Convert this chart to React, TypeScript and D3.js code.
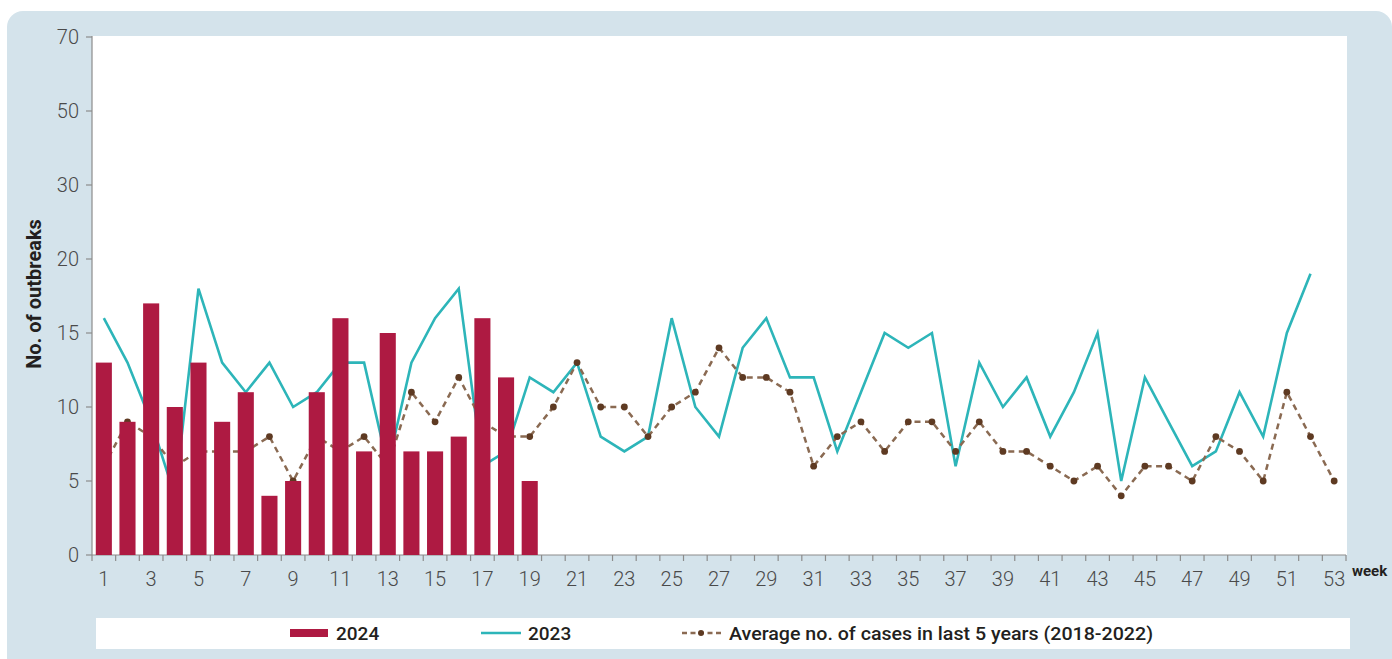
import React from "react";
import * as d3 from "d3";

// weeks on the x axis
const weeks = d3.range(1, 54);
const weekTicks = weeks.filter((w) => w % 2 === 1);

// y axis is uneven: ticks evenly spaced but values jump after 20
const yTicks = [0, 5, 10, 15, 20, 30, 50, 70];

// 2024 outbreaks (bars), weeks 1-19
const cases2024 = [13, 9, 17, 10, 13, 9, 11, 4, 5, 11, 16, 7, 15, 7, 7, 8, 16, 12, 5];

// 2023 outbreaks (line), weeks 1-52
const cases2023 = [
  16, 13, 9, 4, 18, 13, 11, 13, 10, 11, 13, 13, 6, 13, 16, 18, 6, 7, 12, 11,
  13, 8, 7, 8, 16, 10, 8, 14, 16, 12, 12, 7, 11, 15, 14, 15, 6, 13, 10, 12,
  8, 11, 15, 5, 12, 9, 6, 7, 11, 8, 15, 19,
];

// average of last 5 years (2018-2022), weeks 1-53
const avg5yr = [
  6, 9, 8, 6, 7, 7, 7, 8, 5, 8, 7, 8, 6, 11, 9, 12, 9, 8, 8, 10,
  13, 10, 10, 8, 10, 11, 14, 12, 12, 11, 6, 8, 9, 7, 9, 9, 7, 9, 7, 7,
  6, 5, 6, 4, 6, 6, 5, 8, 7, 5, 11, 8, 5,
];

const W = 1392;
const H = 659;
const margin = { left: 92, right: 1346, top: 37, bottom: 555 };

const BAR = "#ae1a42";
const TEAL = "#2db5b9";
const BROWN_LINE = "#8a6a52";
const BROWN_DOT = "#5e3a22";
const PANEL = "#d4e3eb";
const TEXT = "#231f20";
const TICK = "#8c8c8c";
const FONT = "Roboto, 'DejaVu Sans', sans-serif";

export default function App() {
  const x = d3.scaleBand<number>().domain(weeks).range([margin.left, margin.right]);
  const bw = x.bandwidth();
  const cx = (w: number) => (x(w) as number) + bw / 2;

  const step = (margin.bottom - margin.top) / (yTicks.length - 1);
  const y = d3
    .scaleLinear()
    .domain(yTicks)
    .range(yTicks.map((_, i) => margin.bottom - i * step));

  const line2023 = d3
    .line<number>()
    .x((_, i) => cx(i + 1))
    .y((d) => y(d));
  const lineAvg = d3
    .line<number>()
    .x((_, i) => cx(i + 1))
    .y((d) => y(d));

  const barW = bw * 0.68;

  return (
    <svg
      width={W}
      height={H}
      style={{ position: "absolute", left: 0, top: 0, fontFamily: FONT }}
    >
      <rect x={0} y={0} width={W} height={H} fill="#fff" />
      {/* panel */}
      <rect x={7} y={11} width={W - 7} height={H + 20} rx={16} fill={PANEL} />
      {/* plot area */}
      <rect
        x={margin.left}
        y={margin.top - 1}
        width={margin.right - margin.left + 1}
        height={margin.bottom - margin.top + 1}
        fill="#fff"
      />

      {/* y axis */}
      <line x1={margin.left} x2={margin.left} y1={margin.top - 1} y2={margin.bottom} stroke={TICK} strokeWidth={1.2} />
      {yTicks.map((t) => (
        <g key={t}>
          <line x1={margin.left - 6} x2={margin.left} y1={y(t)} y2={y(t)} stroke={TICK} strokeWidth={1.2} />
          <text
            x={margin.left - 13}
            y={y(t)}
            dy="0.36em"
            textAnchor="end"
            fontSize={20}
            fontWeight={300}
            fill="#4a4a4a"
          >
            {t}
          </text>
        </g>
      ))}
      <text
        transform={`translate(41,294) rotate(-90)`}
        textAnchor="middle"
        fontSize={20}
        fontWeight={700}
        fill={TEXT}
      >
        No. of outbreaks
      </text>

      {/* x axis */}
      <line x1={margin.left} x2={margin.right} y1={margin.bottom} y2={margin.bottom} stroke={TICK} strokeWidth={1.2} />
      {weeks.concat([54]).map((w) => {
        const xx = w <= 53 ? (x(w) as number) : margin.right;
        return <line key={w} x1={xx} x2={xx} y1={margin.bottom} y2={margin.bottom + 6} stroke={TICK} strokeWidth={1.2} />;
      })}
      {weekTicks.map((w) => (
        <text key={w} x={cx(w)} y={margin.bottom + 31} textAnchor="middle" fontSize={20} fontWeight={300} fill="#4a4a4a">
          {w}
        </text>
      ))}
      <text x={margin.right + 6} y={576} fontSize={15} fontWeight={700} fill={TEXT}>
        week
      </text>

      {/* 2023 line */}
      <path d={line2023(cases2023) ?? ""} fill="none" stroke={TEAL} strokeWidth={2.6} strokeLinejoin="miter" />

      {/* 5-year average */}
      <path d={lineAvg(avg5yr) ?? ""} fill="none" stroke={BROWN_LINE} strokeWidth={2.5} strokeDasharray="6,4.5" />
      {avg5yr.map((d, i) => (
        <circle key={i} cx={cx(i + 1)} cy={y(d)} r={3.4} fill={BROWN_DOT} />
      ))}

      {/* 2024 bars */}
      {cases2024.map((d, i) => (
        <rect
          key={i}
          x={cx(i + 1) - barW / 2}
          y={y(d)}
          width={barW}
          height={y(0) - y(d)}
          fill={BAR}
        />
      ))}

      {/* legend */}
      <rect x={96} y={618} width={1254} height={31} fill="#fff" />
      <rect x={290} y={629} width={38} height={8} fill={BAR} />
      <text x={336} y={640} fontSize={19} fontWeight={500} fill={TEXT}>2024</text>
      <line x1={481} x2={521} y1={633} y2={633} stroke={TEAL} strokeWidth={2.6} />
      <text x={528} y={640} fontSize={19} fontWeight={500} fill={TEXT}>2023</text>
      <line x1={682} x2={722} y1={633} y2={633} stroke={BROWN_LINE} strokeWidth={2.5} strokeDasharray="5,3.5" />
      <circle cx={701} cy={633} r={3} fill={BROWN_DOT} />
      <text x={729} y={640} fontSize={19} fontWeight={500} fill={TEXT} textLength={424} lengthAdjust="spacingAndGlyphs">
        Average no. of cases in last 5 years (2018-2022)
      </text>
    </svg>
  );
}
